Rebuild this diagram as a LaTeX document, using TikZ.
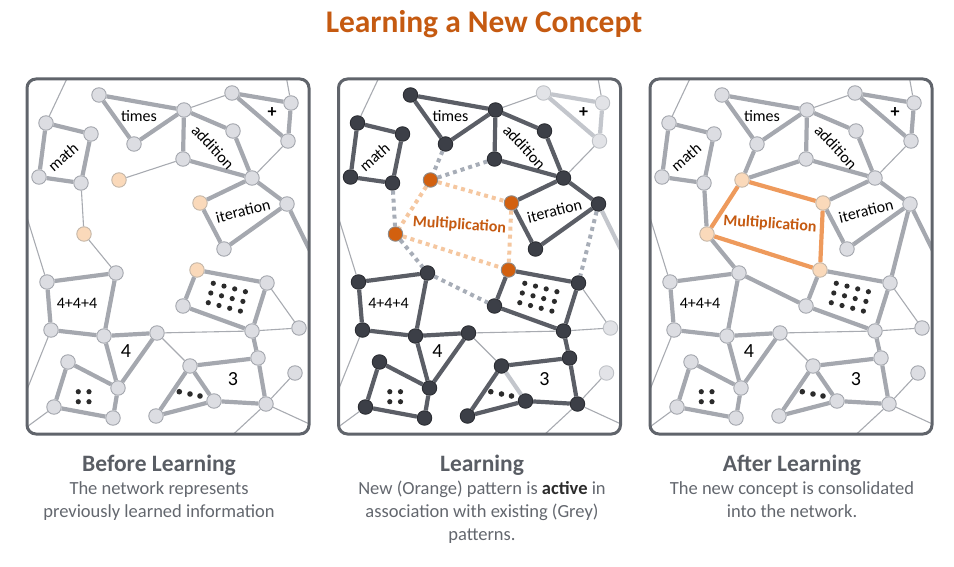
\documentclass[tikz,border=0pt]{standalone}
\usepackage{fontspec}
\setmainfont{Carlito}
\usepackage{tikz}

\definecolor{frm}{HTML}{60646B}
\definecolor{ndfill}{HTML}{DCDDE2}
\definecolor{ndline}{HTML}{A3A6AD}
\definecolor{edge}{HTML}{A5A8AF}
\definecolor{thin}{HTML}{A8ABB1}
\definecolor{dkfill}{HTML}{3C3F47}
\definecolor{dkline}{HTML}{2B2D33}
\definecolor{dkedge}{HTML}{5B5E66}
\definecolor{fdfill}{HTML}{E2E3E7}
\definecolor{fdline}{HTML}{BFC2C7}
\definecolor{fdedge}{HTML}{C3C6CC}
\definecolor{orfill}{HTML}{FAD9BA}
\definecolor{orline}{HTML}{C4B6A8}
\definecolor{ordark}{HTML}{D2600F}
\definecolor{ordkline}{HTML}{8E8A88}
\definecolor{dotgray}{HTML}{A7ADB7}
\definecolor{dotorange}{HTML}{F5C7A0}
\definecolor{orsolid}{HTML}{EE9A5C}
\definecolor{ttlc}{HTML}{C55A11}
\definecolor{caph}{HTML}{595D64}
\definecolor{capt}{HTML}{63676E}
\definecolor{dotc}{HTML}{2B2B2B}

\tikzset{
  nbase/.style={circle,line width=0.9pt,minimum size=14.5pt,inner sep=0pt},
  nd/.style={nbase,draw=ndline,fill=ndfill},
  nf/.style={nbase,draw=ndline,fill=ndfill},
  no/.style={nbase,draw=orline,fill=orfill},
  thk/.style={line width=4.2pt,draw=edge},
  fdd/.style={line width=4.2pt,draw=edge},
  thn/.style={line width=1.1pt,draw=thin},
  dotg/.style={line width=4pt,draw=dotgray,dash pattern=on 4pt off 4pt},
  doto/.style={line width=4pt,draw=dotorange,dash pattern=on 4pt off 4pt},
  lbl/.style={font=\fontsize{16}{16}\selectfont,inner sep=0pt},
  big/.style={font=\fontsize{20}{20}\selectfont,inner sep=0pt},
  mult/.style={font=\fontsize{16}{16}\selectfont\bfseries,text=ttlc,inner sep=0pt,rotate=-4},
  frame/.style={line width=3pt,draw=frm,rounded corners=9pt},
  ttl/.style={font=\fontsize{31.5}{31.5}\selectfont\bfseries,text=ttlc,anchor=base},
  caphead/.style={font=\fontsize{23.5}{23.5}\selectfont\bfseries,text=caph,anchor=base},
  captext/.style={font=\fontsize{18.5}{23}\selectfont,text=capt,align=center,anchor=north,inner sep=0pt}
}

\newcommand{\drawnet}{%
  \node[nd] (m1) at (46,123) {};
  \node[nd] (m2) at (91,134) {};
  \node[nd] (m3) at (39,177) {};
  \node[nd] (m4) at (81,183) {};
  \node[nd] (t1) at (99,95) {};
  \node[nd] (t2) at (184,110) {};
  \node[nd] (t3) at (134,144) {};
  \node[nf] (p1) at (232,93) {};
  \node[nf] (p2) at (291,103) {};
  \node[nf] (p3) at (288,141) {};
  \node[nd] (a1) at (233,131) {};
  \node[nd] (a2) at (183,159) {};
  \node[nd] (a3) at (252,178) {};
  \node[no] (o1) at (119,180) {};
  \node[no] (o2) at (200,203) {};
  \node[no] (o3) at (84,234) {};
  \node[no] (o4) at (197,270) {};
  \node[nd] (i1) at (287,204) {};
  \node[nd] (i2) at (224,249) {};
  \node[nd] (f1) at (47,282) {};
  \node[nd] (f2) at (116,273) {};
  \node[nd] (f3) at (51,330) {};
  \node[nd] (f4) at (104,336) {};
  \node[nd] (g1) at (157,333) {};
  \node[nd] (g2) at (118,388) {};
  \node[nd] (q1) at (68,362) {};
  \node[nd] (q2) at (54,407) {};
  \node[nd] (q3) at (113,418) {};
  \node[nd] (r1) at (267,283) {};
  \node[nd] (r2) at (183,306) {};
  \node[nd] (r3) at (252,331) {};
  \node[nf] (s1) at (299,328) {};
  \node[nf] (s2) at (295,373) {};
  \node[nd] (h1) at (190,366) {};
  \node[nd] (h2) at (258,358) {};
  \node[nd] (h3) at (214,401) {};
  \node[nd] (h4) at (266,404) {};
  \node[nd] (h5) at (156,416) {};
  \coordinate (c1) at (71,70);
  \coordinate (c2) at (285,70);
  \coordinate (c3) at (20,195);
  \coordinate (c4) at (20,407);
  \coordinate (c5) at (20,432);
  \coordinate (c6) at (225,442);
  \coordinate (c7) at (316,427);
  \coordinate (e1) at (316,263);
  \draw[thk] (m1) -- (m2) (m1) -- (m3) (m2) -- (m4) (m3) -- (m4)
    (t1) -- (t2) (t1) -- (t3) (t3) -- (t2)
    (t2) -- (a1) (a1) -- (a3) (t2) -- (a2) (a2) -- (a3)
    (a3) -- (o2) (a3) -- (i1) (o2) -- (i2) (i2) -- (i1)
    (f1) -- (f2) (f1) -- (f3) (f2) -- (f4) (f3) -- (f4)
    (f4) -- (g1) (f4) -- (g2) (g1) -- (g2)
    (q1) -- (g2) (q1) -- (q2) (q2) -- (q3) (q3) -- (g2)
    (o4) -- (r1) (o4) -- (r2) (r1) -- (r3) (r2) -- (r3) (r3) -- (h2)
    (h1) -- (h2) (h1) -- (h5) (h5) -- (h3) (h3) -- (h4) (h2) -- (h4);
  \draw[fdd] (p1) -- (p2) (p2) -- (p3) (p1) -- (p3) (i1) -- (e1) (h1) -- (h3);
  \draw[thn] (m1) -- (c1) (p2) -- (c2) (t2) -- (p1) (p3) -- (a3)
    (f1) -- (c3) (f3) -- (c4) (q2) -- (c5) (g1) -- (r3) (g1) -- (h1)
    (r1) -- (s1) (r3) -- (s1) (h4) -- (s2) (h4) -- (c6) (h4) -- (c7);
  \node[lbl] (ltimes) at (139,116) {times};
  \node[lbl,rotate=41] (lmath) at (63,157) {math};
  \node[lbl,rotate=-47] (ladd) at (213,147) {addition};
  \node[lbl,font=\fontsize{18}{18}\selectfont\bfseries] (lplus) at (272,113) {+};
  \node[lbl,rotate=14] (liter) at (243,211) {iteration};
  \node[lbl] (lsum) at (77,303) {4+4+4};
  \node[big] (lfour) at (126,351) {4};
  \node[big] (lthree) at (233,379) {3};
  \foreach \r in {0,1,2}
    \foreach \c in {0,...,3}
      \fill[dotc] (213.3+10.7*\c-2.5*\r,283.3+2.8*\c+9.7*\r) circle[radius=2.6pt];
  \foreach \c in {0,1}
    \foreach \r in {0,1}
      \fill[dotc] (78.3+10.7*\c,391.7+10*\r) circle[radius=2.6pt];
  \foreach \p in {(179.3,391.7),(190,394),(200,396)}
    \fill[dotc] \p circle[radius=2.8pt];
}

\begin{document}
\begin{tikzpicture}[x=1pt,y=-1pt]
\useasboundingbox (0,0) rectangle (954,567);
\node[ttl] (title) at (484,33) {Learning a New Concept};

\begin{scope}[name prefix=before-]
  \begin{scope}
    \clip[rounded corners=9pt] (27,79) rectangle (309,434);
    \drawnet
    \draw[thn] (a2) -- (o1) (m4) -- (o3) (o3) -- (f2);
  \end{scope}
  \draw[frame] (27,79) rectangle (309,434);
\end{scope}

\begin{scope}[xshift=311.5pt,name prefix=during-,
  nd/.style={nbase,draw=dkline,fill=dkfill},
  nf/.style={nbase,draw=fdline,fill=fdfill},
  no/.style={nbase,draw=ordkline,fill=ordark},
  thk/.style={line width=4.2pt,draw=dkedge},
  fdd/.style={line width=4.2pt,draw=fdedge}]
  \begin{scope}
    \clip[rounded corners=9pt] (27,79) rectangle (309,434);
    \drawnet
    \draw[dotg] (a2) -- (o1) (m4) -- (o3) (o3) -- (f2)
      (t3) -- (o1) (f2) -- (r2) (i1) -- (r1);
    \draw[doto] (o1) -- (o2) (o1) -- (o3) (o3) -- (o4) (o2) -- (o4);
    \node[mult] (lmult) at (148,225) {Multiplication};
  \end{scope}
  \draw[frame] (27,79) rectangle (309,434);
\end{scope}

\begin{scope}[xshift=623pt,name prefix=after-]
  \begin{scope}
    \clip[rounded corners=9pt] (27,79) rectangle (309,434);
    \drawnet
    \draw[thk] (a2) -- (o1) (m4) -- (o3) (o3) -- (f2)
      (t3) -- (o1) (f2) -- (r2) (i1) -- (r1);
    \draw[thk,draw=orsolid] (o1) -- (o2) (o1) -- (o3) (o3) -- (o4) (o2) -- (o4);
    \node[mult] (lmult) at (147,224) {Multiplication};
  \end{scope}
  \draw[frame] (27,79) rectangle (309,434);
\end{scope}

\node[caphead] (hbefore) at (159,471) {Before Learning};
\node[captext] (tbefore) at (159,478.4) {\strut The network represents\\previously learned information};
\node[caphead] (hduring) at (482,471) {Learning};
\node[captext] (tduring) at (482,478.4) {\strut New (Orange) pattern is \textbf{\color{dotc}active} in\\association with existing (Grey)\\patterns.};
\node[caphead] (hafter) at (792,471) {After Learning};
\node[captext] (tafter) at (792,478.4) {\strut The new concept is consolidated\\into the network.};
\end{tikzpicture}
\end{document}
